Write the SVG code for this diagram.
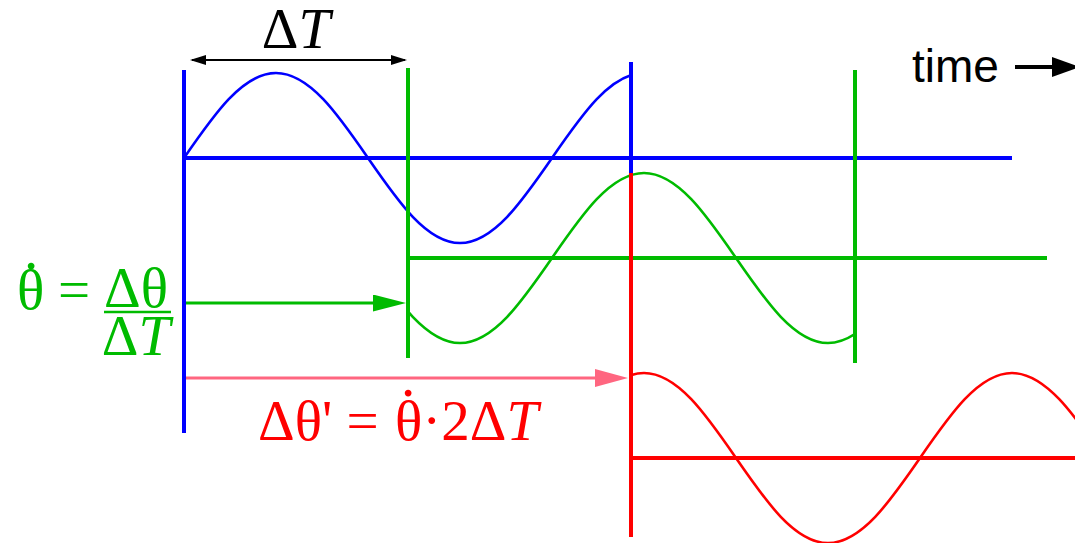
<svg xmlns="http://www.w3.org/2000/svg" width="1075" height="543" viewBox="0 0 1075 543">
<style>
.ax{fill:none;stroke-width:4;stroke-linecap:butt}
.wv{fill:none;stroke-width:2.6}
.b{stroke:#0000ff}
.g{stroke:#00bb00}
.r{stroke:#ff0000}
.m{font-family:"Liberation Serif","Times New Roman",serif;font-size:57px}
.s{font-family:"Liberation Sans",Arial,sans-serif;font-size:46px}
</style>
<defs>
<clipPath id="cb" clipPathUnits="userSpaceOnUse"><rect x="170" y="0" width="461" height="543"/></clipPath>
<clipPath id="cg" clipPathUnits="userSpaceOnUse"><rect x="408" y="0" width="447" height="543"/></clipPath>
<clipPath id="cr" clipPathUnits="userSpaceOnUse"><rect x="631" y="0" width="460" height="543"/></clipPath>
<marker id="hk" markerUnits="userSpaceOnUse" markerWidth="16" markerHeight="10" refX="14" refY="5" orient="auto-start-reverse"><path d="M0,0 L16,5 L0,10 z" fill="#000"/></marker>
<marker id="hg" markerUnits="userSpaceOnUse" markerWidth="34" markerHeight="18" refX="23" refY="8.5" orient="auto"><path d="M0,0 L33,8.5 L0,17 z" fill="#00bb00"/></marker>
<marker id="hp" markerUnits="userSpaceOnUse" markerWidth="34" markerHeight="19" refX="23" refY="9" orient="auto"><path d="M0,0 L33,9 L0,18 z" fill="#ff6680"/></marker>
<marker id="ht" markerUnits="userSpaceOnUse" markerWidth="30" markerHeight="21" refX="18" refY="10" orient="auto"><path d="M0,0 L28,10 L0,20 z" fill="#000"/></marker>
</defs>

<g id="blue-signal">
<path class="wv b" clip-path="url(#cb)" d="M184,158 c30,-43.5 58.7,-85 92,-85 c33.3,0 62,41.5 92,85 c30,43.5 58.7,85 92,85 c33.3,0 62,-41.5 92,-85 c30,-43.5 58.7,-85 92,-85 c33.3,0 62,41.5 92,85"/>
<line class="ax b" x1="182" y1="158" x2="1012" y2="158"/>
<line class="ax b" x1="184" y1="70" x2="184" y2="433"/>
<line class="ax b" x1="631" y1="62" x2="631" y2="173"/>
</g>

<g id="green-signal">
<path class="wv g" clip-path="url(#cg)" d="M184,258 c30,-43.5 58.7,-85 92,-85 c33.3,0 62,41.5 92,85 c30,43.5 58.7,85 92,85 c33.3,0 62,-41.5 92,-85 c30,-43.5 58.7,-85 92,-85 c33.3,0 62,41.5 92,85 c30,43.5 58.7,85 92,85 c33.3,0 62,-41.5 92,-85 c30,-43.5 58.7,-85 92,-85 c33.3,0 62,41.5 92,85"/>
<line class="ax g" x1="408" y1="258" x2="1047" y2="258"/>
<line class="ax g" x1="408" y1="68" x2="408" y2="358"/>
<line class="ax g" x1="855" y1="70" x2="855" y2="363"/>
</g>

<g id="red-signal">
<path class="wv r" clip-path="url(#cr)" d="M184,458 c30,-43.5 58.7,-85 92,-85 c33.3,0 62,41.5 92,85 c30,43.5 58.7,85 92,85 c33.3,0 62,-41.5 92,-85 c30,-43.5 58.7,-85 92,-85 c33.3,0 62,41.5 92,85 c30,43.5 58.7,85 92,85 c33.3,0 62,-41.5 92,-85 c30,-43.5 58.7,-85 92,-85 c33.3,0 62,41.5 92,85 c30,43.5 58.7,85 92,85 c33.3,0 62,-41.5 92,-85"/>
<line class="ax r" x1="631" y1="458" x2="1075" y2="458"/>
<line class="ax r" x1="631" y1="173" x2="631" y2="537"/>
</g>

<g id="connectors">
<line x1="192" y1="60" x2="405" y2="60" stroke="#000" stroke-width="1.8" marker-start="url(#hk)" marker-end="url(#hk)"/>
<line x1="186" y1="303" x2="396" y2="303" stroke="#00bb00" stroke-width="3" marker-end="url(#hg)"/>
<line x1="186" y1="378" x2="618" y2="378" stroke="#ff6680" stroke-width="3" marker-end="url(#hp)"/>
<line x1="1015" y1="67" x2="1070" y2="67" stroke="#000" stroke-width="4" marker-end="url(#ht)"/>
</g>

<g id="label-dT">
<text class="m" x="296" y="48" text-anchor="middle">Δ<tspan font-style="italic">T</tspan></text>
</g>

<g id="label-time">
<text class="s" x="912" y="82">time</text>
</g>

<g id="label-rate" fill="#00bb00">
<text class="m" x="17" y="309">θ</text>
<text class="m" x="31" y="269" text-anchor="middle">.</text>
<text class="m" x="58" y="309">=</text>
<text class="m" x="136" y="307" text-anchor="middle">Δθ</text>
<line x1="104" y1="312" x2="171" y2="312" stroke="#00bb00" stroke-width="2.6"/>
<text class="m" x="136" y="355" text-anchor="middle">Δ<tspan font-style="italic">T</tspan></text>
</g>

<g id="label-shift" fill="#ff0000">
<text class="m" x="258" y="440">Δθ' = <tspan x="395">θ</tspan>·2Δ<tspan font-style="italic">T</tspan></text>
<text class="m" x="408" y="396" text-anchor="middle">.</text>
</g>
</svg>
